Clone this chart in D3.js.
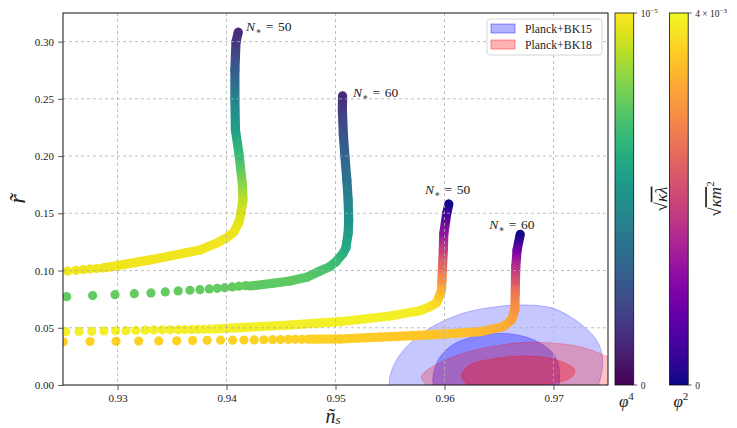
<!DOCTYPE html>
<html>
<head>
<meta charset="utf-8">
<style>
  body { margin: 0; background: #fff; }
  text { font-family: 'Liberation Serif', 'DejaVu Serif', serif; fill: #222; }
</style>
</head>
<body>
<svg width="737" height="428"></svg>
<script src="https://d3js.org/d3.v7.min.js"></script>
<script>
// ticks
var xTicks = [0.93, 0.94, 0.95, 0.96, 0.97];
var yTicks = [0.00, 0.05, 0.10, 0.15, 0.20, 0.25, 0.30];

// phi^4 model, N=50 : [ns, r, colour value]
var phi4N50Line = [
  [0.92867, 0.1023, 0.98], [0.93000, 0.1043, 0.98], [0.93298, 0.1093, 0.98], [0.93756, 0.1180, 0.98],
  [0.93912, 0.1241, 0.98], [0.94000, 0.1285, 0.98], [0.94068, 0.1337, 0.97], [0.94114, 0.1425, 0.96],
  [0.94132, 0.1503, 0.94], [0.94151, 0.1617, 0.90], [0.94146, 0.1748, 0.83], [0.94117, 0.2001, 0.68],
  [0.94082, 0.2229, 0.57], [0.94077, 0.2500, 0.44], [0.94077, 0.2750, 0.29], [0.94087, 0.2998, 0.16],
  [0.94108, 0.3083, 0.12]
];
var phi4N50Dots = [
  [0.92543, 0.0996], [0.92619, 0.1002], [0.92686, 0.1008], [0.92748, 0.1014], [0.92809, 0.1018]
];

// phi^4 model, N=60
var phi4N60Line = [
  [0.94215, 0.0865, 0.75], [0.94428, 0.0889, 0.75], [0.94581, 0.0909, 0.75], [0.94735, 0.0941, 0.74],
  [0.94857, 0.0996, 0.72], [0.94948, 0.1034, 0.70], [0.95003, 0.1075, 0.68], [0.95070, 0.1151, 0.64],
  [0.95095, 0.1197, 0.61], [0.95116, 0.1328, 0.56], [0.95121, 0.1442, 0.51], [0.95116, 0.1617, 0.45],
  [0.95104, 0.1792, 0.38], [0.95086, 0.2001, 0.32], [0.95072, 0.2185, 0.26], [0.95063, 0.2404, 0.18],
  [0.95065, 0.2526, 0.12]
];
var phi4N60Dots = [
  [0.94175, 0.0868], [0.94114, 0.0863], [0.94053, 0.0857], [0.93985, 0.0850], [0.93915, 0.0845],
  [0.93842, 0.0839], [0.93756, 0.0833], [0.93665, 0.0828], [0.93557, 0.0822], [0.93438, 0.0813],
  [0.93307, 0.0804], [0.93154, 0.0798], [0.92977, 0.0789], [0.92772, 0.0781], [0.92534, 0.0772]
];

// phi^2 model, N=50
var phi2N50Line = [
  [0.93900, 0.0490, 0.98], [0.94123, 0.0501, 0.98], [0.94582, 0.0524, 0.98], [0.95040, 0.0553, 0.98],
  [0.95499, 0.0603, 0.98], [0.95774, 0.0649, 0.97], [0.95865, 0.0684, 0.95], [0.95927, 0.0719, 0.92],
  [0.95951, 0.0772, 0.88], [0.95973, 0.0830, 0.83], [0.95977, 0.0918, 0.74], [0.95982, 0.1034, 0.62],
  [0.95989, 0.1180, 0.48], [0.95994, 0.1326, 0.32], [0.96021, 0.1501, 0.10], [0.96040, 0.1582, 0.0]
];
var phi2N50Dots = [
  [0.92525, 0.0466], [0.92647, 0.0468], [0.92763, 0.0469], [0.92876, 0.0472], [0.92983, 0.0474],
  [0.93078, 0.0475], [0.93169, 0.0477], [0.93255, 0.0479], [0.93334, 0.0481], [0.93411, 0.0482],
  [0.93484, 0.0482], [0.93555, 0.0483], [0.93619, 0.0484], [0.93680, 0.0485], [0.93738, 0.0486],
  [0.93793, 0.0487], [0.93848, 0.0488]
];

// phi^2 model, N=60
var phi2N60Line = [
  [0.94780, 0.0400, 0.91], [0.95040, 0.0402, 0.90], [0.95407, 0.0419, 0.89], [0.95712, 0.0431, 0.88],
  [0.96019, 0.0446, 0.87], [0.96324, 0.0466, 0.85], [0.96538, 0.0510, 0.82], [0.96615, 0.0568, 0.79],
  [0.96645, 0.0656, 0.75], [0.96649, 0.0801, 0.67], [0.96651, 0.0918, 0.55], [0.96654, 0.1034, 0.42],
  [0.96666, 0.1180, 0.22], [0.96695, 0.1317, 0.0]
];
var phi2N60Dots = [
  [0.92503, 0.0378], [0.92748, 0.0380], [0.92986, 0.0382], [0.93194, 0.0384], [0.93378, 0.0385],
  [0.93543, 0.0386], [0.93689, 0.0388], [0.93823, 0.0390], [0.93946, 0.0392], [0.94056, 0.0392],
  [0.94160, 0.0393], [0.94254, 0.0394], [0.94343, 0.0395], [0.94423, 0.0396], [0.94496, 0.0397],
  [0.94566, 0.0398], [0.94630, 0.0399], [0.94692, 0.0399], [0.94749, 0.0400]
];

// Planck contours (1 and 2 sigma)
var bk15Outer = [
  [0.95499, 0.0], [0.95529, 0.0160], [0.95652, 0.0335], [0.95865, 0.0496], [0.96171, 0.0627],
  [0.96477, 0.0684], [0.96721, 0.0699], [0.96996, 0.0670], [0.97241, 0.0539], [0.97394, 0.0393],
  [0.97449, 0.0247], [0.97440, 0.0102], [0.97409, 0.0], [0.9735, -0.008], [0.9650, -0.012], [0.9560, -0.008]
];
var bk15Inner = [
  [0.95902, 0.0], [0.95927, 0.0190], [0.96049, 0.0335], [0.96262, 0.0422], [0.96538, 0.0452],
  [0.96782, 0.0408], [0.96966, 0.0306], [0.97042, 0.0190], [0.97057, 0.0073], [0.97048, 0.0],
  [0.9690, -0.008], [0.9605, -0.008]
];
var bk18Outer = [
  [0.95789, 0.0073], [0.95865, 0.0146], [0.96171, 0.0277], [0.96629, 0.0364], [0.96935, 0.0370],
  [0.97241, 0.0335], [0.97500, 0.0247], [0.9780, 0.0120], [0.9780, -0.005], [0.9700, -0.010],
  [0.9600, -0.008], [0.95820, 0.0015]
];
var bk18Inner = [
  [0.96156, 0.0087], [0.96232, 0.0175], [0.96477, 0.0233], [0.96782, 0.0253], [0.97057, 0.0212],
  [0.97195, 0.0131], [0.97165, 0.0067], [0.96996, 0.0015], [0.9650, -0.0010], [0.96198, 0.0015]
];

var legendLabels = ["Planck+BK15", "Planck+BK18"];
var labels = [
  {x: 0.94180, y: 0.3090, n: "50"}, {x: 0.95160, y: 0.2520, n: "60"},
  {x: 0.95820, y: 0.1665, n: "50"}, {x: 0.96410, y: 0.1365, n: "60"}
];

var svg = d3.select("svg");
var pLeft = 63, pRight = 608, pTop = 13, pBottom = 385;
var x = d3.scaleLinear().domain([0.925, 0.975]).range([pLeft, pRight]);
var y = d3.scaleLinear().domain([0, 0.325]).range([pBottom, pTop]);

var defs = svg.append("defs");
defs.append("clipPath").attr("id", "plotclip")
  .append("rect").attr("x", pLeft).attr("y", pTop).attr("width", pRight - pLeft).attr("height", pBottom - pTop);

var plot = svg.append("g").attr("clip-path", "url(#plotclip)");

// contours
var area = d3.line().x(function(d) { return x(d[0]); }).y(function(d) { return y(d[1]); })
  .curve(d3.curveCatmullRomClosed.alpha(0.5));
function contour(data, col, a) {
  plot.append("path").attr("d", area(data))
    .attr("fill", col).attr("fill-opacity", a)
    .attr("stroke", col).attr("stroke-opacity", 0.25).attr("stroke-width", 1);
}
contour(bk15Outer, "#0000ff", 0.22);
contour(bk15Inner, "#0000ff", 0.32);
contour(bk18Outer, "#ff0000", 0.24);
contour(bk18Inner, "#ff0000", 0.32);

// grid
var grid = svg.append("g");
grid.selectAll(".gx").data(xTicks).enter().append("line")
  .attr("x1", function(d) { return x(d); }).attr("x2", function(d) { return x(d); })
  .attr("y1", pTop).attr("y2", pBottom);
grid.selectAll(".gy").data(yTicks.slice(1)).enter().append("line")
  .attr("y1", function(d) { return y(d); }).attr("y2", function(d) { return y(d); })
  .attr("x1", pLeft).attr("x2", pRight);
grid.selectAll("line").attr("stroke", "#b0b0b0").attr("stroke-width", 0.8).attr("stroke-dasharray", "3,3");

// curves
var gid = 0;
function track(line, dots, cmap, dotT) {
  var g = plot.append("g");
  g.selectAll("circle").data(dots).enter().append("circle")
    .attr("cx", function(d) { return x(d[0]); }).attr("cy", function(d) { return y(d[1]); })
    .attr("r", 4.6).attr("fill", cmap(dotT));
  for (var i = 0; i < line.length - 1; i++) {
    var a = line[i], b = line[i + 1];
    var id = "seg" + (gid++);
    var lg = defs.append("linearGradient").attr("id", id).attr("gradientUnits", "userSpaceOnUse")
      .attr("x1", x(a[0])).attr("y1", y(a[1])).attr("x2", x(b[0])).attr("y2", y(b[1]));
    lg.append("stop").attr("offset", 0).attr("stop-color", cmap(a[2]));
    lg.append("stop").attr("offset", 1).attr("stop-color", cmap(b[2]));
    g.append("line").attr("x1", x(a[0])).attr("y1", y(a[1])).attr("x2", x(b[0])).attr("y2", y(b[1]))
      .attr("stroke", "url(#" + id + ")").attr("stroke-width", 9.2).attr("stroke-linecap", "round");
  }
}
track(phi4N50Line, phi4N50Dots, d3.interpolateViridis, 0.98);
track(phi4N60Line, phi4N60Dots, d3.interpolateViridis, 0.76);
track(phi2N50Line, phi2N50Dots, d3.interpolatePlasma, 0.98);
track(phi2N60Line, phi2N60Dots, d3.interpolatePlasma, 0.91);

// annotations
labels.forEach(function(l) {
  var t = svg.append("text").attr("x", x(l.x)).attr("y", y(l.y)).attr("font-size", 13.5);
  t.append("tspan").attr("font-style", "italic").text("N");
  t.append("tspan").attr("font-size", 9).attr("dy", 3).text("\u2217");
  t.append("tspan").attr("dy", -3).attr("dx", 4.5).text("=");
  t.append("tspan").attr("dx", 4.5).text(l.n);
});

// axes
var xAxis = svg.append("g").attr("transform", "translate(0," + pBottom + ")")
  .call(d3.axisBottom(x).tickValues(xTicks).tickSize(5).tickPadding(4).tickFormat(d3.format(".2f")));
var yAxis = svg.append("g").attr("transform", "translate(" + pLeft + ",0)")
  .call(d3.axisLeft(y).tickValues(yTicks).tickSize(5).tickPadding(4).tickFormat(d3.format(".2f")));
[xAxis, yAxis].forEach(function(ax) {
  ax.select(".domain").remove();
  ax.selectAll(".tick line").attr("stroke", "#333").attr("stroke-width", 0.8);
  ax.selectAll(".tick text").attr("font-family", "'Liberation Serif', serif").attr("font-size", 11).attr("fill", "#333");
});
svg.append("rect").attr("x", pLeft).attr("y", pTop).attr("width", pRight - pLeft).attr("height", pBottom - pTop)
  .attr("fill", "none").attr("stroke", "#111").attr("stroke-width", 1);

// axis labels
var xl = svg.append("text").attr("x", 333).attr("y", 423).attr("font-size", 20).attr("text-anchor", "middle");
xl.append("tspan").attr("font-style", "italic").text("\u00f1");
xl.append("tspan").attr("font-style", "italic").attr("font-size", 13).attr("dy", 1).text("s");
svg.append("text").attr("transform", "translate(25,199) rotate(-90)").attr("font-size", 24)
  .attr("font-style", "italic").attr("text-anchor", "middle").text("r\u0303");

// legend
var lgd = svg.append("g");
lgd.append("rect").attr("x", 487).attr("y", 19).attr("width", 115).attr("height", 36).attr("rx", 3)
  .attr("fill", "#fff").attr("fill-opacity", 0.8).attr("stroke", "#ccc").attr("stroke-width", 0.8);
legendLabels.forEach(function(s, i) {
  var c = i === 0 ? "#0000ff" : "#ff0000";
  lgd.append("rect").attr("x", 491).attr("y", 24 + i * 16).attr("width", 24).attr("height", 9)
    .attr("fill", c).attr("fill-opacity", 0.3).attr("stroke", c).attr("stroke-opacity", 0.4);
  lgd.append("text").attr("x", 525).attr("y", 33 + i * 16).attr("font-size", 11.8).text(s);
});

// colour bars
function colorbar(x0, cmap, name, topLabel, label, sup, model) {
  var id = "cb" + name;
  var g = defs.append("linearGradient").attr("id", id).attr("x1", 0).attr("y1", 1).attr("x2", 0).attr("y2", 0);
  d3.range(0, 1.0001, 0.05).forEach(function(t) {
    g.append("stop").attr("offset", t).attr("stop-color", cmap(t));
  });
  var w = 18.7;
  svg.append("rect").attr("x", x0).attr("y", pTop).attr("width", w).attr("height", pBottom - pTop)
    .attr("fill", "url(#" + id + ")").attr("stroke", "#111").attr("stroke-width", 0.8);
  [pTop, pBottom].forEach(function(yy) {
    svg.append("line").attr("x1", x0 + w).attr("x2", x0 + w + 3.5).attr("y1", yy).attr("y2", yy)
      .attr("stroke", "#333").attr("stroke-width", 0.8);
  });
  svg.append("text").attr("x", x0 + w + 7).attr("y", pBottom + 4).attr("font-size", 9.5).text("0");
  var tt = svg.append("text").attr("x", x0 + w + 7).attr("y", pTop + 4).attr("font-size", 9.5);
  tt.append("tspan").text(topLabel);
  tt.append("tspan").attr("font-size", 7).attr("dy", -4).text(sup);
  // rotated label
  var lt = svg.append("text").attr("transform", "translate(" + (x0 + w + 33) + ",199) rotate(-90)")
    .attr("font-size", 17).attr("text-anchor", "middle");
  lt.append("tspan").text("\u221a");
  lt.append("tspan").attr("font-style", "italic").style("text-decoration", "overline").text(label[0]);
  if (label[1]) lt.append("tspan").attr("font-size", 11).attr("dy", -7).text(label[1]);
  var ml = svg.append("text").attr("x", x0 + w / 2 + 2).attr("y", 407).attr("font-size", 17)
    .attr("text-anchor", "middle");
  ml.append("tspan").attr("font-style", "italic").text("\u03c6");
  ml.append("tspan").attr("font-size", 11).attr("dy", -7).text(model);
}
colorbar(615, d3.interpolateViridis, "v", "10", ["\u03ba\u03bb", ""], "\u22125", "4");
colorbar(669.5, d3.interpolatePlasma, "p", "4 \u00d7 10", ["\u03bam", "2"], "\u22123", "2");
</script>
</body>
</html>
